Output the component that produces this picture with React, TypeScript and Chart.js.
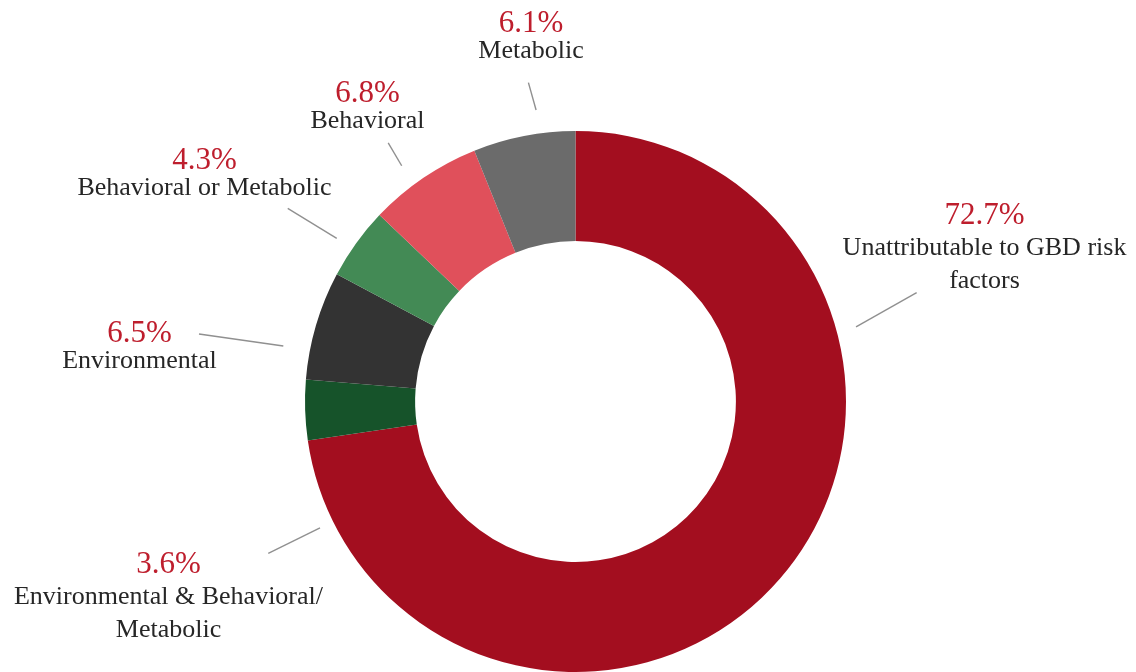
import React, { useEffect, useRef } from "react";
import { Chart, registerables } from "chart.js";

Chart.register(...registerables);

// ---- data ----
const categories: string[] = [
  "Unattributable to GBD risk factors",
  "Environmental & Behavioral/Metabolic",
  "Environmental",
  "Behavioral or Metabolic",
  "Behavioral",
  "Metabolic",
];
const shares: number[] = [72.7, 3.6, 6.5, 4.3, 6.8, 6.1];
const labelLines: string[][] = [
  ["Unattributable to GBD risk", "factors"],
  ["Environmental & Behavioral/", "Metabolic"],
  ["Environmental"],
  ["Behavioral or Metabolic"],
  ["Behavioral"],
  ["Metabolic"],
];
const sliceColors: string[] = ["#A30E1F", "#16532A", "#333333", "#438A55", "#E0505B", "#6B6B6B"];

// ---- annotation layout (relative to the doughnut centre / outer radius) ----
// text: [dx, dy of percent baseline centre, gap to first label baseline]
const textOffsets: number[][] = [
  [409, -178, 31.5],
  [-407, 171, 31.5],
  [-436, -60, 26.6],
  [-371, -233, 26.7],
  [-208, -300, 26.6],
  [-44.5, -370, 26.6],
];
// leaders: [angle1 (deg from top, clockwise), extra radius1, angle2, extra radius2]
const leaderGeom: number[][] = [
  [75.1, 19.8, 72.3, 87.6],
  [243.7, 14.5, 243.7, 72.2],
  [280.75, 26.9, 280.16, 112],
  [304.35, 18.7, 303.87, 76.1],
  [323.6, 22.4, 324.1, 48.9],
  [352.3, 23.7, 351.6, 51.8],
];

const FONT = '"Liberation Serif", "Times New Roman", serif';

const labelPlugin = {
  id: "manualLabels",
  afterDatasetsDraw(chart: any) {
    const meta = chart.getDatasetMeta(0);
    const arc0 = meta.data[0] as any;
    if (!arc0) return;
    const cx = arc0.x;
    const cy = arc0.y;
    const R = arc0.outerRadius;
    const ctx = chart.ctx as CanvasRenderingContext2D;
    ctx.save();
    // leaders
    ctx.strokeStyle = "#909090";
    ctx.lineWidth = 1.4;
    leaderGeom.forEach((g) => {
      const a1 = (g[0] * Math.PI) / 180;
      const a2 = (g[2] * Math.PI) / 180;
      const r1 = R + g[1];
      const r2 = R + g[3];
      ctx.beginPath();
      ctx.moveTo(cx + r1 * Math.sin(a1), cy - r1 * Math.cos(a1));
      ctx.lineTo(cx + r2 * Math.sin(a2), cy - r2 * Math.cos(a2));
      ctx.stroke();
    });
    // texts
    ctx.textAlign = "center";
    ctx.textBaseline = "alphabetic";
    shares.forEach((v, i) => {
      const [dx, dy, gap] = textOffsets[i];
      const x = cx + dx;
      const y = cy + dy;
      ctx.fillStyle = "#BE1E2D";
      ctx.font = `31px ${FONT}`;
      ctx.fillText(`${v.toFixed(1)}%`, x, y);
      ctx.fillStyle = "#262626";
      ctx.font = `26px ${FONT}`;
      labelLines[i].forEach((line, j) => {
        ctx.fillText(line, x, y + gap + j * 33);
      });
    });
    ctx.restore();
  },
};

export default function App() {
  const ref = useRef<HTMLCanvasElement | null>(null);
  useEffect(() => {
    document.body.style.margin = "0";
    const canvas = ref.current;
    if (!canvas) return;
    const chart = new Chart(canvas, {
      type: "doughnut",
      data: {
        labels: categories,
        datasets: [
          {
            data: shares,
            backgroundColor: sliceColors,
            borderWidth: 0,
            hoverOffset: 0,
            offset: 0,
          },
        ],
      },
      options: {
        responsive: false,
        animation: false,
        cutout: "59.3%",
        layout: { padding: { top: 131, bottom: 0, left: 305, right: 290 } },
        plugins: {
          legend: { display: false },
          tooltip: { enabled: false },
        },
        events: [],
      },
      plugins: [labelPlugin],
    });
    return () => chart.destroy();
  }, []);
  return (
    <div style={{ width: 1136, height: 672, background: "#ffffff" }}>
      <canvas ref={ref} width={1136} height={672} style={{ display: "block" }} />
    </div>
  );
}
